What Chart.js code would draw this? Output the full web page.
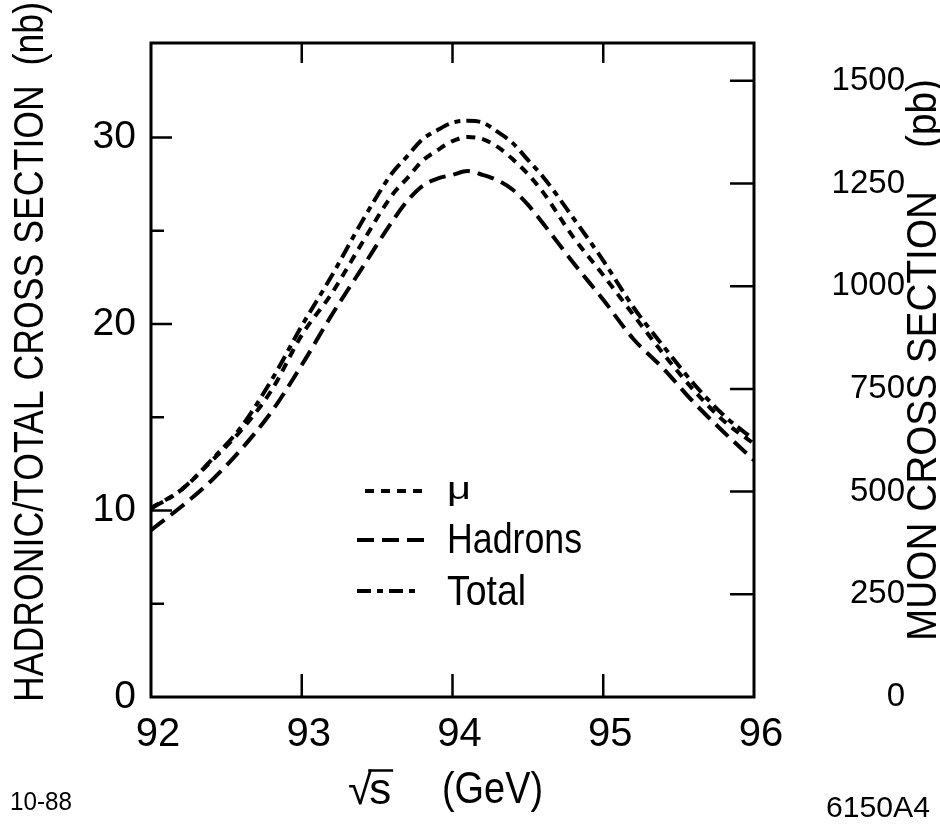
<!DOCTYPE html>
<html>
<head>
<meta charset="utf-8">
<script src="https://cdn.jsdelivr.net/npm/chart.js@4.4.1/dist/chart.umd.min.js"></script>
<style>
  html, body { margin: 0; padding: 0; background: #fff; }
  canvas { display: block; }
</style>
</head>
<body>
<canvas id="c" width="940" height="826"></canvas>
<script>
// Centre-of-mass energy (GeV)
const energies  = [92.0, 92.2, 92.4, 92.6, 92.8, 93.0, 93.2, 93.4, 93.6, 93.7, 93.8, 93.9, 94.0,
                   94.1, 94.2, 94.3, 94.4, 94.5, 94.6, 94.8, 95.0, 95.2, 95.4, 95.6, 95.8, 96.0];
// Total cross section (nb, left axis)
const totalNb   = [10.1, 11.1, 12.7, 14.5, 17.0, 19.9, 22.6, 25.5, 28.1, 29.0, 29.9, 30.4, 30.8,
                   30.9, 30.8, 30.3, 29.7, 28.8, 27.9, 25.7, 23.4, 20.9, 18.8, 16.8, 15.1, 13.8];
// Hadronic cross section (nb, left axis)
const hadronsNb = [8.95, 10.2, 11.6, 13.3, 15.3, 17.8, 20.5, 23.0, 25.5, 26.6, 27.4, 27.8, 28.0,
                   28.2, 28.0, 27.7, 27.2, 26.4, 25.4, 23.3, 21.3, 19.2, 17.6, 15.8, 14.2, 12.7];
// Muon pair cross section (pb, right axis)
const muonPb    = [460, 504, 574, 650, 747, 881, 983, 1105, 1222, 1263, 1305, 1331, 1353,
                   1363, 1358, 1339, 1309, 1273, 1229, 1120, 1027, 930, 835, 747, 672, 616];

const xTicks     = [92, 93, 94, 95, 96];
const leftTicks  = [0, 10, 20, 30];
const leftMarks  = [5, 10, 15, 20, 25, 30];
const rightTicks = [0, 250, 500, 750, 1000, 1250, 1500];

const seriesNames = ['\u03bc', 'Hadrons', 'Total'];
const leftTitle   = 'HADRONIC/TOTAL CROSS SECTION  (nb)';
const rightTitle  = 'MUON CROSS SECTION    (pb)';
const xUnit       = '(GeV)';
const dateNote    = '10-88';
const figureId    = '6150A4';

const SANS   = "'Liberation Sans', Arial, Helvetica, sans-serif";
const NARROW = "'Liberation Sans Narrow', 'Liberation Sans', Arial, sans-serif";

const dashMu      = [9, 7];
const dashHadrons = [17, 8];
const dashTotal   = [14, 6, 6, 6];

const pts = (ys) => energies.map((e, i) => ({ x: e, y: ys[i] }));

// Text squeezed/stretched horizontally to a given run length
function fitText(ctx, text, x, y, width, size, family, rot) {
  ctx.save();
  ctx.font = size + 'px ' + family;
  const w = ctx.measureText(text).width;
  ctx.translate(x, y);
  if (rot) ctx.rotate(rot);
  ctx.scale(width / w, 1);
  ctx.textAlign = 'left';
  ctx.textBaseline = 'alphabetic';
  ctx.fillStyle = '#000';
  ctx.fillText(text, 0, 0);
  ctx.restore();
}

// keep the axes from reserving extra room around the plot box
function noPad(s) { s.paddingTop = 0; s.paddingBottom = 0; s.paddingLeft = 0; s.paddingRight = 0; }

const decorations = {
  id: 'decorations',
  afterDraw(chart) {
    const ctx = chart.ctx;
    const a = chart.chartArea;
    const sx = chart.scales.x, sy = chart.scales.y, sy1 = chart.scales.y1;
    ctx.save();
    ctx.strokeStyle = '#000';
    ctx.fillStyle = '#000';
    ctx.setLineDash([]);
    ctx.lineCap = 'butt';

    // frame
    ctx.lineWidth = 3;
    ctx.strokeRect(a.left, a.top, a.right - a.left, a.bottom - a.top);

    // inward tick marks
    ctx.lineWidth = 2.5;
    ctx.beginPath();
    xTicks.slice(1, -1).forEach(v => {
      const px = sx.getPixelForValue(v);
      ctx.moveTo(px, a.bottom); ctx.lineTo(px, a.bottom - 23);
      ctx.moveTo(px, a.top);    ctx.lineTo(px, a.top + 20);
    });
    leftMarks.forEach(v => {
      const py = sy.getPixelForValue(v);
      const len = (v % 10 === 0) ? 21 : 13;
      ctx.moveTo(a.left, py); ctx.lineTo(a.left + len, py);
    });
    rightTicks.slice(1).forEach(v => {
      const py = sy1.getPixelForValue(v);
      ctx.moveTo(a.right, py); ctx.lineTo(a.right - 24, py);
    });
    ctx.stroke();

    // legend
    const ds = chart.data.datasets;
    const rows = [
      { d: ds[0], y: 491, x0: 365, x1: 423, tx: 447, ty: 499, w: 24, size: 32 },
      { d: ds[1], y: 540, x0: 357, x1: 426, tx: 447, ty: 553, w: 135, size: 42 },
      { d: ds[2], y: 591, x0: 357, x1: 421, tx: 447, ty: 605, w: 79,  size: 42 }
    ];
    rows.forEach(r => {
      ctx.save();
      ctx.lineWidth = r.d.borderWidth;
      ctx.setLineDash(r.d.borderDash);
      ctx.beginPath();
      ctx.moveTo(r.x0, r.y); ctx.lineTo(r.x1, r.y);
      ctx.stroke();
      ctx.restore();
      fitText(ctx, r.d.label, r.tx, r.ty, r.w, r.size, r.d.label === '\u03bc' ? SANS : NARROW);
    });

    // axis titles
    fitText(ctx, leftTitle, 43, 702, 700, 42, NARROW, -Math.PI / 2);
    fitText(ctx, rightTitle, 936, 641, 562, 42, NARROW, -Math.PI / 2);

    // sqrt(s) with radical bar, then unit
    ctx.font = '44px ' + SANS;
    ctx.textBaseline = 'alphabetic';
    ctx.textAlign = 'left';
    const rx = 348, by = 804;
    ctx.fillText('\u221a', rx, by);
    const rm = ctx.measureText('\u221a');
    const sxPos = rx + rm.width - 3;
    ctx.font = '44px ' + NARROW;
    ctx.fillText('s', sxPos, by);
    const smw = ctx.measureText('s').width;
    ctx.lineWidth = 2.5;
    ctx.beginPath();
    const barY = by - rm.actualBoundingBoxAscent + 1.5;
    ctx.moveTo(sxPos - 1, barY); ctx.lineTo(sxPos + smw + 2, barY);
    ctx.stroke();
    fitText(ctx, xUnit, 442, 803, 101, 44, NARROW);

    // corner notes
    fitText(ctx, dateNote, 10, 810, 62, 25, SANS);
    fitText(ctx, figureId, 826, 817, 104, 30, NARROW);

    ctx.restore();
  }
};

new Chart(document.getElementById('c'), {
  type: 'line',
  data: {
    datasets: [
      { label: seriesNames[0], data: pts(muonPb), yAxisID: 'y1',
        borderColor: '#000', borderWidth: 4, borderDash: dashMu, pointRadius: 0,
        cubicInterpolationMode: 'monotone', fill: false },
      { label: seriesNames[1], data: pts(hadronsNb), yAxisID: 'y',
        borderColor: '#000', borderWidth: 4, borderDash: dashHadrons, pointRadius: 0,
        cubicInterpolationMode: 'monotone', fill: false },
      { label: seriesNames[2], data: pts(totalNb), yAxisID: 'y',
        borderColor: '#000', borderWidth: 4, borderDash: dashTotal, pointRadius: 0,
        cubicInterpolationMode: 'monotone', fill: false }
    ]
  },
  options: {
    responsive: false,
    animation: false,
    devicePixelRatio: 1,
    layout: { padding: { top: 43, left: 0, right: 35, bottom: 0 } },
    plugins: { legend: { display: false }, tooltip: { enabled: false } },
    scales: {
      x: {
        type: 'linear', position: 'bottom', min: 92, max: 96,
        grid: { display: false, drawTicks: false },
        border: { display: false },
        afterBuildTicks: s => { s.ticks = xTicks.map(v => ({ value: v })); },
        afterFit: s => { s.height = 129; noPad(s); },
        ticks: { color: '#000', padding: 14, labelOffset: 7, maxRotation: 0,
                 callback: v => String(v), font: { family: SANS, size: 40 } }
      },
      y: {
        type: 'linear', position: 'left', min: 0, max: 35.07,
        grid: { display: false, drawTicks: false },
        border: { display: false },
        afterBuildTicks: s => { s.ticks = leftTicks.map(v => ({ value: v })); },
        afterFit: s => { s.width = 151; noPad(s); },
        ticks: { color: '#000', padding: 15, callback: v => String(v),
                 font: { family: SANS, size: 39 } }
      },
      y1: {
        type: 'linear', position: 'right', min: 0, max: 1592,
        grid: { display: false, drawTicks: false },
        border: { display: false },
        afterBuildTicks: s => { s.ticks = rightTicks.map(v => ({ value: v })); },
        afterFit: s => { s.width = 151; noPad(s); },
        ticks: { color: '#000', padding: 20, crossAlign: 'far', callback: v => String(v),
                 font: { family: SANS, size: 33 } }
      }
    }
  },
  plugins: [decorations]
});
</script>
</body>
</html>
